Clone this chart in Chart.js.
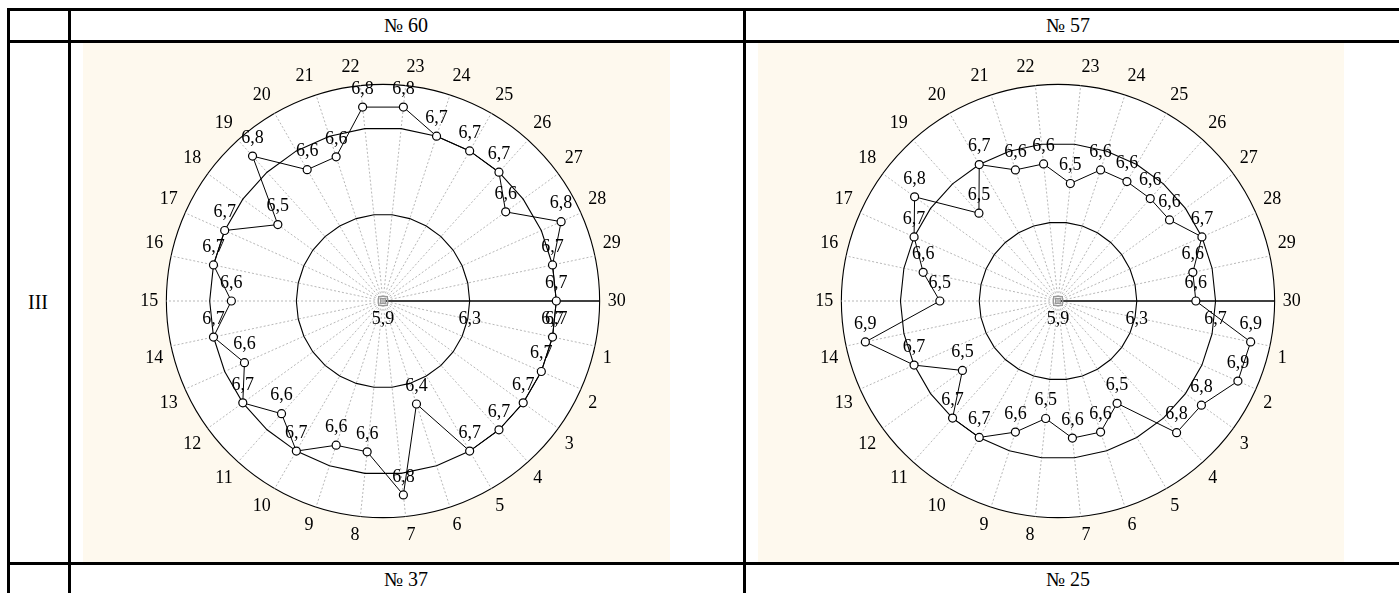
<!DOCTYPE html>
<html>
<head>
<meta charset="utf-8">
<script src="https://cdn.jsdelivr.net/npm/chart.js@4.4.0/dist/chart.umd.min.js"></script>
<style>
    body {
        margin: 0;
        width: 1399px;
        height: 593px;
        overflow: hidden;
        background: #fff;
        position: relative;
        font-family: 'Liberation Serif', 'Times New Roman', serif;
    }
    .line { position: absolute; background: #000; }
    .cell-text {
        position: absolute;
        font-size: 20px;
        transform: translate(-50%, -50%);
        white-space: nowrap;
        color: #000;
    }
    .plot { position: absolute; background: #fef9ee; }
</style>
</head>
<body>
<!-- table lines -->
<div class="line" style="left:7px; top:8px; width:1392px; height:3px"></div>
<div class="line" style="left:7px; top:40px; width:1392px; height:3px"></div>
<div class="line" style="left:7px; top:562px; width:1392px; height:3px"></div>
<div class="line" style="left:7px; top:8px; width:3px; height:585px"></div>
<div class="line" style="left:68px; top:8px; width:3px; height:585px"></div>
<div class="line" style="left:743px; top:8px; width:3px; height:585px"></div>

<div class="cell-text" style="left:406px; top:25px">№ 60</div>
<div class="cell-text" style="left:1068px; top:25px">№ 57</div>
<div class="cell-text" style="left:38px; top:302px">III</div>
<div class="cell-text" style="left:406px; top:579px">№ 37</div>
<div class="cell-text" style="left:1068px; top:579px">№ 25</div>

<div class="plot" style="left:83px; top:43px; width:587px; height:519px">
    <canvas id="chart-60" width="587" height="519"></canvas>
</div>
<div class="plot" style="left:758px; top:43px; width:586px; height:519px">
    <canvas id="chart-57" width="586" height="519"></canvas>
</div>

<script>
const days = ['1', '2', '3', '4', '5', '6', '7', '8', '9', '10',
    '11', '12', '13', '14', '15', '16', '17', '18', '19', '20',
    '21', '22', '23', '24', '25', '26', '27', '28', '29', '30'];

// значения по дням
const values60 = [6.7, 6.7, 6.7, 6.7, 6.7, 6.4, 6.8, 6.6, 6.6, 6.7,
    6.6, 6.7, 6.6, 6.7, 6.6, 6.7, 6.7, 6.5, 6.8, 6.6,
    6.6, 6.8, 6.8, 6.7, 6.7, 6.7, 6.6, 6.8, 6.7, 6.7];
const values57 = [6.9, 6.9, 6.8, 6.8, 6.5, 6.6, 6.6, 6.5, 6.6, 6.7,
    6.7, 6.5, 6.7, 6.9, 6.5, 6.6, 6.7, 6.8, 6.5, 6.7,
    6.6, 6.6, 6.5, 6.6, 6.6, 6.6, 6.6, 6.7, 6.6, 6.6];

// опорные кольца
const level63 = [6.3, 6.3, 6.3, 6.3, 6.3, 6.3, 6.3, 6.3, 6.3, 6.3,
    6.3, 6.3, 6.3, 6.3, 6.3, 6.3, 6.3, 6.3, 6.3, 6.3,
    6.3, 6.3, 6.3, 6.3, 6.3, 6.3, 6.3, 6.3, 6.3, 6.3];
const level67 = [6.7, 6.7, 6.7, 6.7, 6.7, 6.7, 6.7, 6.7, 6.7, 6.7,
    6.7, 6.7, 6.7, 6.7, 6.7, 6.7, 6.7, 6.7, 6.7, 6.7,
    6.7, 6.7, 6.7, 6.7, 6.7, 6.7, 6.7, 6.7, 6.7, 6.7];

const tickValues = [5.9, 6.3, 6.7];
const scaleMin = 5.9;
const scaleMax60 = 6.9;
const scaleMax57 = 7.0;

function fmt(v) {
    return v.toFixed(1).replace('.', ',');
}

// no segment between day 30 and day 1
const openLoop = {
    borderColor: ctx => ctx.p0DataIndex === days.length - 1 ? 'rgba(0,0,0,0)' : undefined
};

const valueLabels = {
    id: 'valueLabels',
    afterDatasetsDraw(chart) {
        const c = chart.ctx;
        const r = chart.scales.r;
        c.save();

        // маркер центра
        c.strokeStyle = '#9a9a9a';
        c.lineWidth = 1;
        c.strokeRect(r.xCenter - 4.5, r.yCenter - 4.5, 9, 9);
        c.strokeRect(r.xCenter - 2.5, r.yCenter - 2.5, 5, 5);

        c.font = '18px "Liberation Serif"';
        c.fillStyle = '#000';
        c.textAlign = 'center';
        c.textBaseline = 'middle';

        tickValues.forEach(v => {
            c.fillText(fmt(v), r.xCenter + r.getDistanceFromCenterForValue(v), r.yCenter + 18);
        });

        const meta = chart.getDatasetMeta(0);
        const data = chart.data.datasets[0].data;
        meta.data.forEach((pt, i) => {
            c.fillText(fmt(data[i]), pt.x, pt.y - 18);
        });
        c.restore();
    }
};

function makeChart(canvasId, values, maxValue, padLeft) {
    const ctx = document.getElementById(canvasId).getContext('2d');
    return new Chart(ctx, {
        type: 'radar',
        data: {
            labels: days,
            datasets: [
                {
                    data: values,
                    borderColor: '#000',
                    borderWidth: 1,
                    pointRadius: 4,
                    pointBackgroundColor: '#fff',
                    pointBorderColor: '#000',
                    pointBorderWidth: 1.2,
                    fill: false,
                    segment: openLoop
                },
                {
                    data: level63,
                    borderColor: '#000',
                    borderWidth: 1.1,
                    pointRadius: 0,
                    fill: false,
                    segment: openLoop
                },
                {
                    data: level67,
                    borderColor: '#000',
                    borderWidth: 1.1,
                    pointRadius: 0,
                    fill: false,
                    segment: openLoop
                }
            ]
        },
        options: {
            responsive: false,
            animation: false,
            layout: { padding: { left: padLeft, right: 0, top: 14, bottom: 15 } },
            plugins: {
                legend: { display: false },
                tooltip: { enabled: false }
            },
            elements: { line: { tension: 0 } },
            scales: {
                r: {
                    min: scaleMin,
                    max: maxValue,
                    startAngle: 102,
                    backgroundColor: '#fff',
                    ticks: { display: false, stepSize: 0.1 },
                    grid: {
                        circular: true,
                        lineWidth: 1.1,
                        color: c => c.index === c.scale.ticks.length - 1 ? '#000' : 'rgba(0,0,0,0)'
                    },
                    angleLines: {
                        lineWidth: c => c.index === days.length - 1 ? 1.4 : 1,
                        color: c => c.index === days.length - 1 ? '#000' : '#b8b8b8',
                        borderDash: c => c.index === days.length - 1 ? [] : [2, 2]
                    },
                    pointLabels: {
                        color: '#000',
                        padding: 8,
                        font: { family: 'Liberation Serif', size: 18 }
                    }
                }
            }
        },
        plugins: [valueLabels]
    });
}

makeChart('chart-60', values60, scaleMax60, 13);
makeChart('chart-57', values57, scaleMax57, 14);
</script>
</body>
</html>
